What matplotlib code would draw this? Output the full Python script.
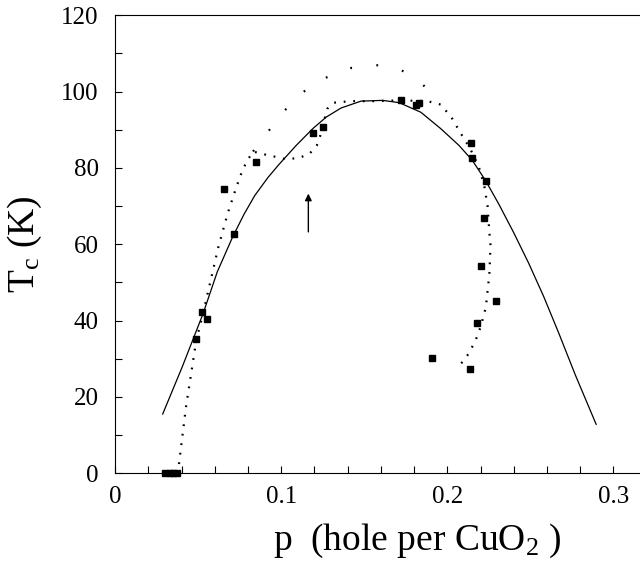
import matplotlib
matplotlib.use("Agg")
import matplotlib.pyplot as plt
from matplotlib.ticker import MultipleLocator

plt.rcParams['font.family'] = ['Liberation Serif', 'DejaVu Serif']
plt.rcParams['mathtext.fontset'] = 'custom'
plt.rcParams['mathtext.rm'] = 'Liberation Serif'
plt.rcParams['mathtext.it'] = 'Liberation Serif'

# measured samples (squares)
sq_p = [0.030, 0.033, 0.035, 0.037, 0.0488, 0.0523, 0.055, 0.0654, 0.0716, 0.0847,
        0.119, 0.125, 0.172, 0.181, 0.183, 0.191, 0.2134, 0.214, 0.215, 0.2176,
        0.2205, 0.222, 0.223, 0.2294]
sq_tc = [0, 0, 0, 0, 35.2, 42.2, 40.3, 74.5, 62.6, 81.5,
         89.2, 90.7, 97.7, 96.6, 97.1, 30.2, 27.3, 86.6, 82.5, 39.3,
         54.2, 66.8, 76.7, 45.2]

# solid curve
fit_p = [0.0286, 0.0405, 0.0529, 0.0615, 0.0706, 0.0775, 0.0841, 0.092, 0.0986, 0.109,
         0.119, 0.127, 0.136, 0.148, 0.161, 0.171, 0.184, 0.196, 0.207, 0.215,
         0.223, 0.231, 0.240, 0.249, 0.258, 0.267, 0.277, 0.2896]
fit_tc = [15.5, 28.0, 41.8, 52.8, 61.8, 67.8, 72.8, 77.5, 80.9, 85.9,
          90.3, 93.3, 95.7, 97.5, 97.7, 97.1, 94.6, 90.3, 85.9, 82.0,
          76.7, 70.5, 63.0, 55.0, 46.3, 36.8, 25.8, 12.8]

# dotted curve through the data
dot_p = [0.0384, 0.0426, 0.0457, 0.0488, 0.053, 0.057, 0.0623, 0.0679, 0.0716, 0.0754,
         0.0789, 0.083, 0.0882, 0.0945, 0.1017, 0.110, 0.117, 0.1214, 0.1235, 0.1256,
         0.1277, 0.1318, 0.142, 0.157, 0.171, 0.188, 0.196, 0.2024, 0.2076, 0.2138,
         0.219, 0.2222, 0.2242, 0.2253, 0.226, 0.2253, 0.2232, 0.220, 0.217, 0.2128, 0.207]
dot_tc = [2.4, 17.3, 26.0, 34.8, 42.0, 49.6, 59.6, 68.3, 73.2, 78.0,
          81.5, 84.3, 83.7, 83.1, 82.4, 82.5, 83.7, 85.9, 88.5, 92.0,
          95.5, 97.1, 97.5, 97.5, 97.7, 97.5, 96.6, 93.3, 89.4, 85.0,
          80.2, 75.4, 70.1, 63.1, 59.7, 52.2, 43.5, 38.3, 34.8, 31.3, 28.0]

# upper dotted dome
dome_p = [0.083, 0.0909, 0.0982, 0.107, 0.1163, 0.1266, 0.1422, 0.1578, 0.1709, 0.1812, 0.19, 0.196]
dome_tc = [84.3, 88.8, 93.1, 97.5, 101.0, 103.6, 106.2, 106.9, 105.9, 103.6, 99.7, 96.6]

fig = plt.figure(figsize=(6.4, 5.66), dpi=100)
ax = fig.add_axes([0.18, 0.164, 0.82, 0.809])

ax.plot(fit_p, fit_tc, color='black', lw=0.9)
ax.plot(dot_p, dot_tc, color='black', lw=1.6, linestyle=(0, (0.8, 3.5)))
ax.plot(dome_p, dome_tc, color='black', lw=1.6, linestyle=(0, (0.8, 11)))
ax.plot(sq_p, sq_tc, 's', color='black', ms=5, clip_on=False)

ax.annotate('', xy=(0.1163, 74), xytext=(0.1163, 62.5),
            arrowprops=dict(arrowstyle='-|>', color='black', lw=1, mutation_scale=10))

ax.set_xlim(0, 0.316)
ax.set_ylim(0, 120)
ax.xaxis.set_major_locator(MultipleLocator(0.1))
ax.xaxis.set_minor_locator(MultipleLocator(0.02))
ax.yaxis.set_major_locator(MultipleLocator(20))
ax.yaxis.set_minor_locator(MultipleLocator(10))
ax.set_xticks([0, 0.1, 0.2, 0.3])
ax.set_xticklabels(['0', '0.1', '0.2', '0.3'])
ax.tick_params(which='both', direction='in', length=5, width=0.8, labelsize=18)
ax.tick_params(axis='y', pad=12)
ax.tick_params(axis='x', pad=9)
ax.tick_params(top=False, right=False)
ax.spines['right'].set_visible(False)

ax.set_xlabel('p  (hole per CuO$_2$ )', fontsize=27, labelpad=10)
ax.xaxis.set_label_coords(0.575, -0.105)
ax.set_ylabel('T$_{\\rm c}$ (K)', fontsize=27, labelpad=12)

fig.savefig('out.png', dpi=100)
